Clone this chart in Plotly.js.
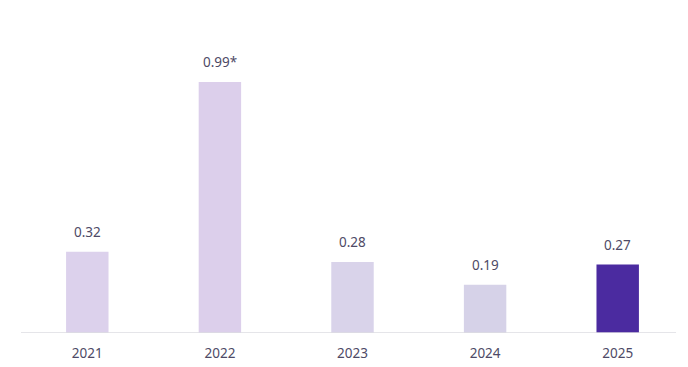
<!DOCTYPE html>
<html>
<head>
<meta charset="utf-8">
<script src="https://cdn.plot.ly/plotly-3.0.1.min.js"></script>
<style>html,body{margin:0;padding:0;background:#fff;}#chart{width:688px;height:367px;}</style>
</head>
<body>
<div id="chart"></div>
<script>
const years = ['2021', '2022', '2023', '2024', '2025'];
const values = [0.32, 0.99, 0.28, 0.19, 0.27];
const labels = ['0.32', '0.99*', '0.28', '0.19', '0.27'];
const barColors = ['#dcd1ec', '#dccfeb', '#d9d3ea', '#d6d2e8', '#4b2ba0'];

const font = 'Noto Sans, sans-serif';
const textColor = '#4e4a66';

const trace = {
  type: 'bar',
  x: years,
  y: values,
  marker: {color: barColors, line: {width: 0}},
  width: 0.32,
  hoverinfo: 'none'
};

const annotations = years.map((yr, i) => ({
  x: i, y: values[i], xref: 'x', yref: 'y',
  text: labels[i], showarrow: false,
  yanchor: 'bottom', yshift: 9,
  font: {family: font, size: 13.5, color: textColor}
}));

const layout = {
  width: 688, height: 367,
  margin: {l: 21, r: 4, t: 54, b: 34},
  paper_bgcolor: '#ffffff',
  plot_bgcolor: '#ffffff',
  showlegend: false,
  annotations: annotations,
  shapes: [{
    type: 'line', xref: 'paper', yref: 'y',
    x0: 0, x1: 0.988, y0: 0, y1: 0,
    line: {color: '#dcdce2', width: 1.5}
  }],
  xaxis: {
    type: 'category',
    showline: false,
    showgrid: false, zeroline: false, ticks: '',
    ticklabelstandoff: 10,
    tickfont: {family: font, size: 13.5, color: textColor},
    range: [-0.5, 4.5]
  },
  yaxis: {
    range: [0, 1.1],
    showticklabels: false, showgrid: false, zeroline: false, showline: false, ticks: ''
  }
};

Plotly.newPlot('chart', [trace], layout, {staticPlot: true, displayModeBar: false});
</script>
</body>
</html>
